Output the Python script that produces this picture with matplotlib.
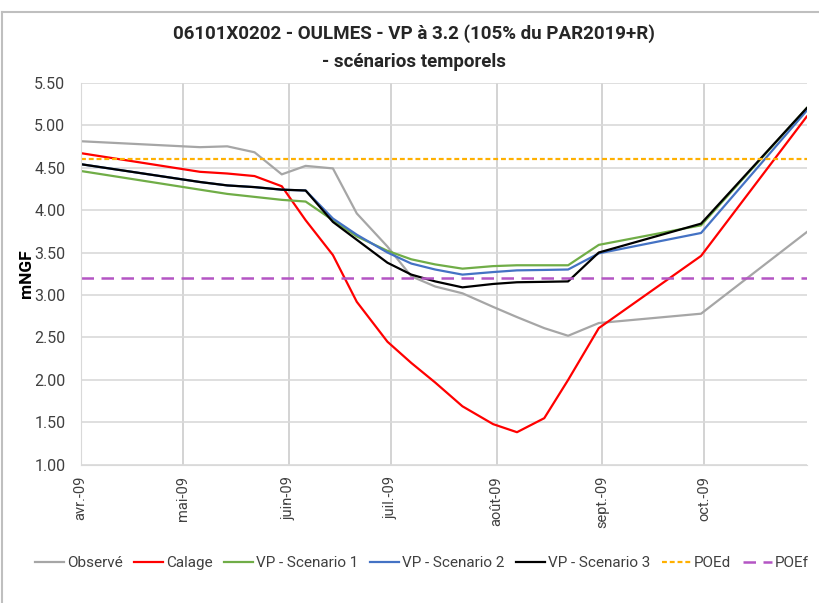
import numpy as np
import pandas as pd
import matplotlib
matplotlib.use('Agg')
import matplotlib.pyplot as plt
from matplotlib.lines import Line2D

plt.rcParams['font.family'] = ['Liberation Sans Narrow', 'DejaVu Sans Condensed', 'Roboto', 'DejaVu Sans']

# data
dates = pd.to_datetime([
    '2009-04-01', '2009-05-06', '2009-05-14', '2009-05-22', '2009-05-30',
    '2009-06-06', '2009-06-14', '2009-06-21', '2009-06-30', '2009-07-07',
    '2009-07-14', '2009-07-22', '2009-07-31', '2009-08-07', '2009-08-15',
    '2009-08-22', '2009-08-31', '2009-09-30', '2009-10-31'])

observe = [4.81, 4.74, 4.75, 4.68, 4.42, 4.52, 4.49, 3.96, 3.57, 3.22,
           3.10, 3.02, 2.86, 2.74, 2.61, 2.52, 2.67, 2.78, 3.74]
calage = [4.67, 4.45, 4.43, 4.40, 4.28, 3.88, 3.47, 2.92, 2.45, 2.20,
          1.97, 1.69, 1.48, 1.385, 1.55, 2.00, 2.61, 3.46, 5.10]
scen1 = [4.46, 4.24, 4.19, 4.155, 4.12, 4.10, 3.88, 3.69, 3.52, 3.42,
         3.36, 3.31, 3.34, 3.35, 3.35, 3.35, 3.59, 3.82, 5.20]
scen2 = [4.54, 4.33, 4.29, 4.27, 4.24, 4.23, 3.90, 3.71, 3.50, 3.37,
         3.30, 3.24, 3.27, 3.29, 3.295, 3.30, 3.49, 3.73, 5.17]
scen3 = [4.54, 4.33, 4.29, 4.27, 4.24, 4.23, 3.86, 3.65, 3.38, 3.24,
         3.16, 3.09, 3.13, 3.15, 3.155, 3.16, 3.50, 3.84, 5.20]
poed = 4.60
poef = 3.20

month_ticks = pd.date_range('2009-04-01', '2009-10-01', freq='MS')
month_labels = ['avr.-09', 'mai-09', 'juin-09', 'juil.-09', 'août-09', 'sept.-09', 'oct.-09']
y_ticks = np.arange(1.0, 5.51, 0.5)

fig = plt.figure(figsize=(8.19, 6.03), dpi=100)
ax = fig.add_axes([0.0985, 0.229, 0.8865, 0.634])

ax.plot(dates, observe, color='#A6A6A6', lw=1.6, label='Observé')
ax.plot(dates, calage, color='#FF0000', lw=1.6, label='Calage')
ax.plot(dates, scen1, color='#70AD47', lw=1.6, label='VP - Scenario 1')
ax.plot(dates, scen2, color='#4472C4', lw=1.6, label='VP - Scenario 2')
ax.plot(dates, scen3, color='#000000', lw=1.6, label='VP - Scenario 3')
ax.axhline(poed, color='#FFB000', lw=1.6, ls=(0, (2.2, 1.3)), label='POEd')
ax.axhline(poef, color='#B455C4', lw=1.8, ls=(0, (5, 3)), label='POEf')

ax.set_xlim(pd.Timestamp('2009-04-01'), pd.Timestamp('2009-10-31'))
ax.set_ylim(1.0, 5.5)
ax.set_yticks(y_ticks)
ax.set_yticklabels(['%.2f' % v for v in y_ticks], fontsize=11.5, color='#404040')
ax.set_xticks(month_ticks)
ax.set_xticklabels(month_labels, rotation=90, fontsize=10.5, color='#404040', va='top')
ax.tick_params(length=0, pad=8)
ax.tick_params(axis='y', pad=11)

ax.grid(axis='y', color='#D9D9D9', lw=1.2)
ax.grid(axis='x', color='#CCCCCC', lw=1.2)
ax.set_axisbelow(True)
for s in ['top', 'right']:
    ax.spines[s].set_visible(False)
ax.spines['left'].set_color('#D9D9D9')
ax.spines['bottom'].set_color('#D9D9D9')

ax.set_ylabel('mNGF', fontsize=12.5, fontweight='bold', labelpad=0)

fig.text(0.505, 0.945, '06101X0202 - OULMES - VP à 3.2 (105% du PAR2019+R)',
         ha='center', va='center', fontsize=13.5, fontweight='bold', color='#262626')
fig.text(0.505, 0.898, '- scénarios temporels',
         ha='center', va='center', fontsize=13.5, fontweight='bold', color='#262626')

fig.legend(loc='center', bbox_to_anchor=(0.515, 0.066), ncol=7, frameon=False,
           fontsize=11, handlelength=1.9, handletextpad=0.2, columnspacing=0.75,
           labelcolor='#404040')

# chart border
fig.add_artist(Line2D([0.003, 1.0], [0.98, 0.98], transform=fig.transFigure, color='#BFBFBF', lw=1.5))
fig.add_artist(Line2D([0.003, 0.003], [0.0, 0.98], transform=fig.transFigure, color='#BFBFBF', lw=1.5))

fig.savefig('out.png', dpi=100)
